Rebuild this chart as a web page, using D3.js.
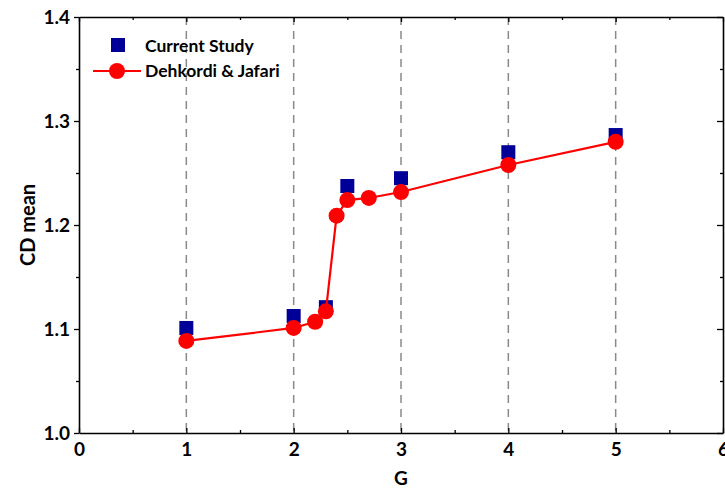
<!DOCTYPE html>
<html>
<head>
<meta charset="utf-8">
<script src="https://d3js.org/d3.v7.min.js"></script>
<style>
  html, body { margin: 0; padding: 0; background: #fff; }
  svg { display: block; font-family: Lato, "Open Sans", sans-serif; font-weight: bold; }
</style>
</head>
<body>
<svg id="chart" width="725" height="490"></svg>
<script>
// Current study results
const currentG  = [1, 2, 2.3, 2.5, 3, 4, 5];
const currentCD = [1.101, 1.1125, 1.121, 1.2375, 1.245, 1.270, 1.2865];

// Dehkordi & Jafari reference results
const refG  = [1, 2, 2.2, 2.3, 2.4, 2.5, 2.7, 3, 4, 5];
const refCD = [1.0885, 1.101, 1.107, 1.117, 1.209, 1.224, 1.226, 1.2317, 1.2577, 1.280];

const xTicks = [0, 1, 2, 3, 4, 5, 6];
const yTicks = [1.0, 1.1, 1.2, 1.3, 1.4];
const gridX  = [1, 2, 3, 4, 5];

const seriesNames = ["Current Study", "Dehkordi & Jafari"];

const svg = d3.select("#chart");
const plotL = 79, plotR = 723, plotT = 17, plotB = 433;

const x = d3.scaleLinear().domain([0, 6]).range([plotL, plotR]);
const y = d3.scaleLinear().domain([1.0, 1.4]).range([plotB, plotT]);

const blue = "#000099", red = "#ff0000";

// dashed vertical grid lines
svg.append("g").selectAll("line").data(gridX).join("line")
  .attr("x1", d => x(d)).attr("x2", d => x(d))
  .attr("y1", plotT).attr("y2", plotB)
  .attr("stroke", "#8a8a8a").attr("stroke-width", 1.5)
  .attr("stroke-dasharray", "8,6");

// axes: bottom & left with labels, top & right as frame with inward ticks
const minorX = d3.range(0.5, 6, 1);
const minorY = [1.05, 1.15, 1.25, 1.35];

function styleAxis(g) {
  g.selectAll("path.domain").attr("stroke", "#000").attr("stroke-width", 1.6);
  g.selectAll(".tick line").attr("stroke", "#000").attr("stroke-width", 1.3);
}

const xAxis = svg.append("g").attr("transform", `translate(0,${plotB})`)
  .call(d3.axisBottom(x).tickValues(xTicks).tickFormat(d3.format("d"))
        .tickSizeInner(-5).tickSizeOuter(0).tickPadding(10));
styleAxis(xAxis);
xAxis.selectAll("text").attr("font-size", 19).attr("font-family", "Lato, sans-serif")
  .attr("font-weight", "bold").attr("fill", "#000");
svg.append("g").attr("transform", `translate(0,${plotB})`)
  .call(d3.axisBottom(x).tickValues(minorX).tickFormat("").tickSizeInner(-3).tickSizeOuter(0))
  .call(g => g.select("path.domain").remove()).call(styleAxis);

const yAxis = svg.append("g").attr("transform", `translate(${plotL},0)`)
  .call(d3.axisLeft(y).tickValues(yTicks).tickFormat(d3.format(".1f"))
        .tickSizeInner(5).tickSizeOuter(0).tickPadding(4));
styleAxis(yAxis);
yAxis.selectAll("text").attr("font-size", 19).attr("font-family", "Lato, sans-serif")
  .attr("font-weight", "bold").attr("fill", "#000");
svg.append("g").attr("transform", `translate(${plotL},0)`)
  .call(d3.axisLeft(y).tickValues(minorY).tickFormat("").tickSizeInner(3).tickSizeOuter(0))
  .call(g => g.select("path.domain").remove()).call(styleAxis);

const topAxis = svg.append("g").attr("transform", `translate(0,${plotT})`)
  .call(d3.axisTop(x).tickValues(xTicks).tickFormat("").tickSizeInner(-5).tickSizeOuter(0));
styleAxis(topAxis);
svg.append("g").attr("transform", `translate(0,${plotT})`)
  .call(d3.axisTop(x).tickValues(minorX).tickFormat("").tickSizeInner(-3).tickSizeOuter(0))
  .call(g => g.select("path.domain").remove()).call(styleAxis);

const rightAxis = svg.append("g").attr("transform", `translate(${plotR},0)`)
  .call(d3.axisRight(y).tickValues(yTicks).tickFormat("").tickSizeInner(-6).tickSizeOuter(0));
styleAxis(rightAxis);
svg.append("g").attr("transform", `translate(${plotR},0)`)
  .call(d3.axisRight(y).tickValues(minorY).tickFormat("").tickSizeInner(-3).tickSizeOuter(0))
  .call(g => g.select("path.domain").remove()).call(styleAxis);

// axis titles
svg.append("text").attr("x", (plotL + plotR) / 2).attr("y", 485)
  .attr("text-anchor", "middle").attr("font-size", 19).text("G");
svg.append("text").attr("transform", `translate(35,${(plotT + plotB) / 2}) rotate(-90)`)
  .attr("text-anchor", "middle").attr("font-size", 20).text("CD mean");

// current study squares
const sq = 14;
svg.append("g").selectAll("rect").data(currentG).join("rect")
  .attr("x", (d) => x(d) - sq / 2)
  .attr("y", (d, i) => y(currentCD[i]) - sq / 2)
  .attr("width", sq).attr("height", sq).attr("fill", blue);

// reference line + circles
const line = d3.line().x(d => x(d[0])).y(d => y(d[1]));
svg.append("path").datum(refG.map((g, i) => [g, refCD[i]]))
  .attr("d", line).attr("fill", "none").attr("stroke", red).attr("stroke-width", 2.2);
svg.append("g").selectAll("circle").data(refG).join("circle")
  .attr("cx", d => x(d)).attr("cy", (d, i) => y(refCD[i]))
  .attr("r", 8).attr("fill", red);

// legend
const lg = svg.append("g");
lg.append("rect").attr("x", 111).attr("y", 38).attr("width", sq).attr("height", sq).attr("fill", blue);
lg.append("text").attr("x", 145).attr("y", 52).attr("font-size", 17.5).text(seriesNames[0]);
lg.append("line").attr("x1", 93).attr("x2", 141).attr("y1", 71).attr("y2", 71)
  .attr("stroke", red).attr("stroke-width", 2.2);
lg.append("circle").attr("cx", 117).attr("cy", 71).attr("r", 8).attr("fill", red);
lg.append("text").attr("x", 145).attr("y", 77).attr("font-size", 17.5).text(seriesNames[1]);
</script>
</body>
</html>
